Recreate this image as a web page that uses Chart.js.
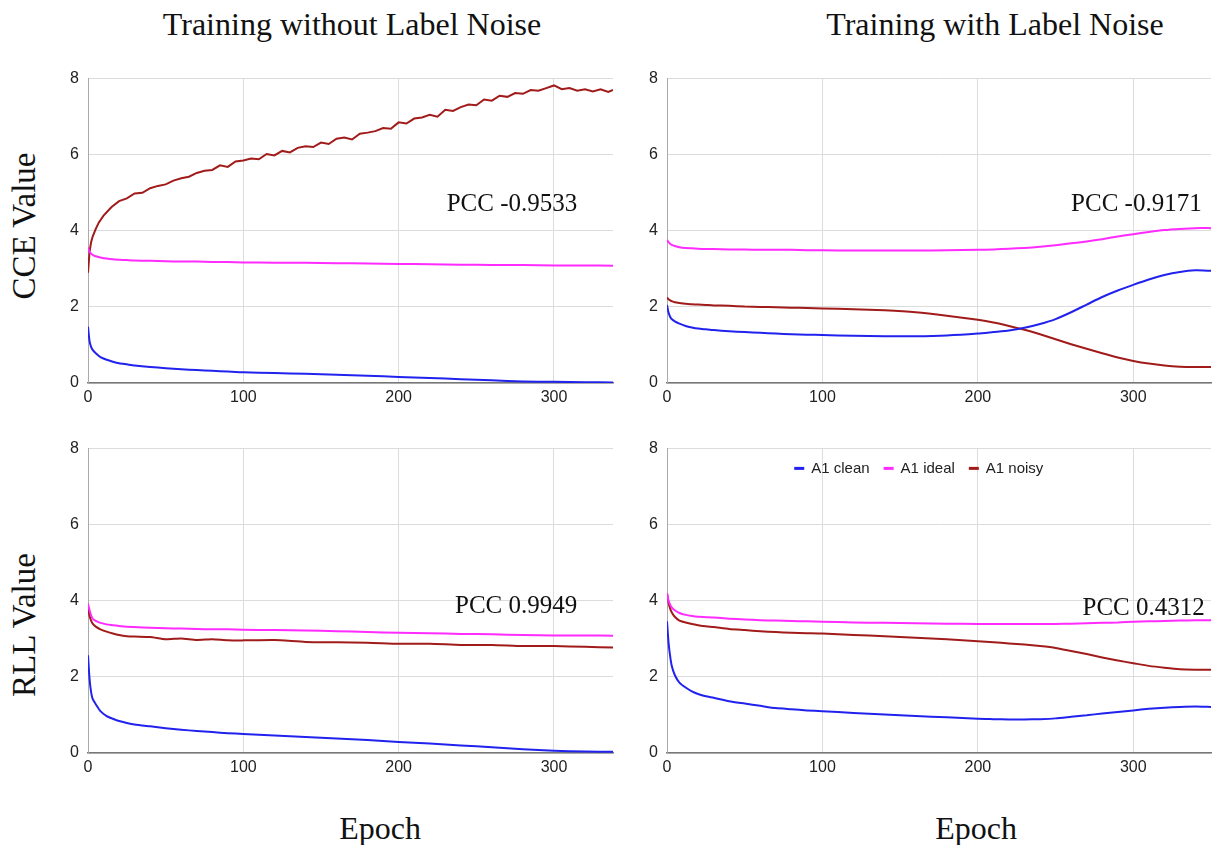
<!DOCTYPE html>
<html>
<head>
<meta charset="utf-8">
<script src="https://cdn.jsdelivr.net/npm/chart.js@4/dist/chart.umd.min.js"></script>
<style>
  body { margin: 0; background: #fff; width: 1214px; height: 845px; position: relative; overflow: hidden; }
  canvas { position: absolute; }
  .t { position: absolute; font-family: 'Liberation Serif', serif; font-size: 32px; color: #111; white-space: nowrap; transform: translate(-50%, -50%); }
  .rot { transform: translate(-50%, -50%) rotate(-90deg); font-size: 33px; }
</style>
</head>
<body>
<div class="t" style="left:352px; top:24px;">Training without Label Noise</div>
<div class="t" style="left:995px; top:24px;">Training with Label Noise</div>
<div class="t rot" style="left:24px; top:226px;">CCE Value</div>
<div class="t rot" style="left:24px; top:625px;">RLL Value</div>
<div class="t" style="left:380px; top:828px;">Epoch</div>
<div class="t" style="left:976px; top:828px;">Epoch</div>

<canvas id="c1" width="580" height="360" style="left:40px; top:60px;"></canvas>
<canvas id="c2" width="594" height="360" style="left:620px; top:60px;"></canvas>
<canvas id="c3" width="580" height="360" style="left:40px; top:430px;"></canvas>
<canvas id="c4" width="594" height="360" style="left:620px; top:430px;"></canvas>

<script>
// series names + colours
var seriesNames = ['A1 clean', 'A1 ideal', 'A1 noisy'];
var seriesColors = ['#2222ee', '#ff2bff', '#a11b1b'];
var yTicks = [0, 2, 4, 6, 8];
var xTicks = [0, 100, 200, 300];

// epochs sampled for the left column (run ends at 338) and right column (ends at 350)
var leftEpochs = [0, 1, 2, 3, 5, 8, 12, 16, 20, 25, 30, 40, 50, 60, 70, 80, 90, 100, 120, 140, 160, 180, 200, 220, 240, 260, 280, 300, 320, 338];
var rightEpochs = [0, 1, 2, 3, 5, 8, 12, 16, 20, 25, 30, 40, 50, 60, 70, 80, 90, 100, 120, 140, 160, 180, 200, 210, 220, 230, 240, 250, 260, 270, 280, 290, 300, 310, 320, 330, 340, 350];
var noisyEpochs = [0, 1, 2, 3, 5, 7, 10, 15, 20, 25, 30, 35, 40, 45, 50, 55, 60, 65, 70, 75, 80, 85, 90, 95, 100, 105, 110, 115, 120, 125, 130, 135, 140, 145, 150, 155, 160, 165, 170, 175, 180, 185, 190, 195, 200, 205, 210, 215, 220, 225, 230, 235, 240, 245, 250, 255, 260, 265, 270, 275, 280, 285, 290, 295, 300, 305, 310, 315, 320, 325, 330, 335, 338];

// CCE, without label noise
var cceCleanA = [1.48, 1.1, 0.95, 0.87, 0.78, 0.68, 0.61, 0.56, 0.52, 0.49, 0.46, 0.42, 0.39, 0.36, 0.34, 0.32, 0.3, 0.28, 0.26, 0.24, 0.22, 0.19, 0.16, 0.13, 0.1, 0.07, 0.04, 0.03, 0.02, 0.015];
var cceIdealA = [3.56, 3.45, 3.4, 3.37, 3.33, 3.3, 3.27, 3.25, 3.24, 3.23, 3.22, 3.21, 3.2, 3.19, 3.19, 3.18, 3.18, 3.17, 3.16, 3.16, 3.15, 3.14, 3.13, 3.12, 3.11, 3.1, 3.1, 3.09, 3.09, 3.08];
var cceNoisyA = [2.9, 3.45, 3.7, 3.85, 4.05, 4.22, 4.4, 4.62, 4.78, 4.85, 4.98, 5.0, 5.12, 5.18, 5.22, 5.32, 5.38, 5.42, 5.52, 5.58, 5.6, 5.72, 5.68, 5.82, 5.85, 5.9, 5.88, 6.02, 5.98, 6.1, 6.06, 6.18, 6.22, 6.2, 6.32, 6.28, 6.42, 6.45, 6.4, 6.55, 6.58, 6.62, 6.7, 6.68, 6.85, 6.82, 6.95, 6.98, 7.05, 7.0, 7.18, 7.15, 7.25, 7.32, 7.3, 7.45, 7.42, 7.55, 7.52, 7.62, 7.6, 7.7, 7.68, 7.75, 7.82, 7.72, 7.75, 7.68, 7.72, 7.66, 7.72, 7.65, 7.7];

// CCE, with label noise
var cceCleanB = [2.05, 1.85, 1.74, 1.68, 1.62, 1.56, 1.5, 1.46, 1.43, 1.41, 1.39, 1.36, 1.34, 1.32, 1.3, 1.28, 1.27, 1.26, 1.24, 1.23, 1.23, 1.25, 1.3, 1.34, 1.38, 1.45, 1.55, 1.68, 1.86, 2.06, 2.26, 2.43, 2.58, 2.72, 2.84, 2.92, 2.96, 2.95];
var cceIdealB = [3.76, 3.7, 3.66, 3.63, 3.6, 3.57, 3.55, 3.54, 3.53, 3.52, 3.52, 3.51, 3.51, 3.5, 3.5, 3.5, 3.49, 3.49, 3.48, 3.48, 3.48, 3.49, 3.5, 3.51, 3.53, 3.55, 3.58, 3.62, 3.67, 3.72, 3.78, 3.85, 3.91, 3.97, 4.02, 4.05, 4.07, 4.07];
var cceNoisyB = [2.25, 2.2, 2.17, 2.15, 2.12, 2.1, 2.08, 2.07, 2.06, 2.05, 2.04, 2.03, 2.01, 2.0, 1.99, 1.98, 1.97, 1.96, 1.94, 1.91, 1.86, 1.77, 1.66, 1.59, 1.5, 1.4, 1.28, 1.15, 1.02, 0.9, 0.78, 0.67, 0.58, 0.51, 0.46, 0.43, 0.42, 0.42];

// RLL, without label noise
var rllCleanA = [2.57, 1.95, 1.6, 1.42, 1.28, 1.1, 0.97, 0.9, 0.84, 0.79, 0.75, 0.7, 0.65, 0.61, 0.58, 0.55, 0.52, 0.5, 0.46, 0.42, 0.38, 0.34, 0.29, 0.25, 0.2, 0.15, 0.1, 0.06, 0.04, 0.03];
var rllIdealA = [3.92, 3.75, 3.62, 3.53, 3.47, 3.42, 3.38, 3.36, 3.34, 3.32, 3.31, 3.29, 3.28, 3.27, 3.26, 3.25, 3.25, 3.24, 3.23, 3.22, 3.2, 3.18, 3.16, 3.15, 3.13, 3.12, 3.1, 3.09, 3.09, 3.08];
var rllNoisyA = [3.83, 3.6, 3.48, 3.4, 3.32, 3.25, 3.19, 3.14, 3.1, 3.07, 3.06, 3.05, 2.99, 3.01, 2.97, 2.99, 2.96, 2.96, 2.97, 2.92, 2.91, 2.9, 2.87, 2.87, 2.84, 2.84, 2.81, 2.81, 2.79, 2.77];

// RLL, with label noise
var rllCleanB = [3.46, 2.9, 2.55, 2.3, 2.05, 1.85, 1.72, 1.62, 1.55, 1.49, 1.45, 1.36, 1.3, 1.24, 1.18, 1.15, 1.12, 1.1, 1.05, 1.01, 0.97, 0.94, 0.9, 0.89, 0.88, 0.88, 0.89, 0.91, 0.95, 0.99, 1.04, 1.08, 1.12, 1.16, 1.19, 1.21, 1.22, 1.21];
var rllIdealB = [4.2, 4.0, 3.9, 3.83, 3.75, 3.68, 3.63, 3.6, 3.58, 3.57, 3.56, 3.53, 3.51, 3.49, 3.48, 3.47, 3.46, 3.45, 3.43, 3.42, 3.41, 3.4, 3.39, 3.39, 3.39, 3.39, 3.39, 3.39, 3.4, 3.41, 3.42, 3.43, 3.45, 3.46, 3.47, 3.48, 3.49, 3.49];
var rllNoisyB = [4.2, 3.95, 3.8, 3.7, 3.58, 3.48, 3.43, 3.39, 3.36, 3.33, 3.31, 3.26, 3.23, 3.2, 3.18, 3.16, 3.15, 3.14, 3.1, 3.07, 3.03, 2.99, 2.94, 2.91, 2.88, 2.85, 2.81, 2.76, 2.68, 2.6, 2.51, 2.43, 2.36, 2.29, 2.24, 2.2, 2.19, 2.19];

var pccLabels = ['PCC -0.9533', 'PCC -0.9171', 'PCC 0.9949', 'PCC 0.4312'];

function pts(xs, ys) {
  return ys.map(function(v, i) { return { x: xs[i], y: v }; });
}

function ds(i, xs, ys, tension) {
  return {
    label: seriesNames[i],
    data: pts(xs, ys),
    borderColor: seriesColors[i],
    backgroundColor: seriesColors[i],
    borderWidth: 2,
    pointRadius: 0,
    tension: tension === undefined ? 0.2 : tension
  };
}

var tickFont = { family: "'Liberation Sans', Arial, sans-serif", size: 16 };

function makeChart(id, xMax, sets, pcc, showLegend, rightPad) {
  // PCC text + (optional) legend drawn inside the plot area
  var overlay = {
    id: 'overlay',
    afterDatasetsDraw: function(chart) {
      var c = chart.ctx;
      var xs = chart.scales.x, ys = chart.scales.y;
      c.save();
      c.font = "25px 'Liberation Serif', serif";
      c.fillStyle = '#111';
      c.textAlign = 'right';
      c.textBaseline = 'middle';
      c.fillText(pcc.text, xs.getPixelForValue(pcc.x), ys.getPixelForValue(pcc.y));

      if (showLegend) {
        c.font = "15px 'Liberation Sans', Arial, sans-serif";
        c.textAlign = 'left';
        var items = chart.data.datasets.map(function(d) {
          return { text: d.label, color: d.borderColor, w: c.measureText(d.label).width };
        });
        var box = 10, gap = 7, spacing = 14;
        var total = items.reduce(function(a, it) { return a + box + gap + it.w; }, 0) + spacing * (items.length - 1);
        var x = xs.getPixelForValue(162) - total / 2;
        var y = ys.getPixelForValue(7.48);
        items.forEach(function(it) {
          c.fillStyle = it.color;
          c.fillRect(x, y - 1.5, box, 3);
          c.fillStyle = '#222';
          c.fillText(it.text, x + box + gap, y);
          x += box + gap + it.w + spacing;
        });
      }
      c.restore();
    }
  };
  return new Chart(document.getElementById(id), {
    type: 'line',
    data: { datasets: sets },
    options: {
      responsive: false,
      animation: false,
      layout: { padding: { left: 0, top: 17, right: rightPad, bottom: 0 } },
      plugins: {
        legend: { display: false },
        tooltip: { enabled: false }
      },
      scales: {
        x: {
          type: 'linear', min: 0, max: xMax,
          afterFit: function(s) { s.height = 37; },
          grid: { color: '#dcdcdc', drawTicks: false },
          border: { color: '#777', width: 1.5 },
          ticks: { stepSize: 100, includeBounds: false, padding: 5, color: '#222', font: tickFont }
        },
        y: {
          min: 0, max: 8,
          afterFit: function(s) { s.width = id === 'c1' || id === 'c3' ? 48 : 47; },
          grid: { color: '#dcdcdc', drawTicks: false },
          border: { color: '#aaa' },
          ticks: { stepSize: 2, padding: 9, color: '#222', font: tickFont }
        }
      }
    },
    plugins: [overlay]
  });
}

makeChart('c1', 338, [ds(0, leftEpochs, cceCleanA), ds(1, leftEpochs, cceIdealA), ds(2, noisyEpochs, cceNoisyA, 0)],
  { text: pccLabels[0], x: 315, y: 4.68 }, false, 7);
makeChart('c2', 350, [ds(0, rightEpochs, cceCleanB), ds(1, rightEpochs, cceIdealB), ds(2, rightEpochs, cceNoisyB)],
  { text: pccLabels[1], x: 344, y: 4.68 }, false, 3);
makeChart('c3', 338, [ds(0, leftEpochs, rllCleanA), ds(1, leftEpochs, rllIdealA), ds(2, leftEpochs, rllNoisyA)],
  { text: pccLabels[2], x: 315, y: 3.85 }, false, 7);
makeChart('c4', 350, [ds(0, rightEpochs, rllCleanB), ds(1, rightEpochs, rllIdealB), ds(2, rightEpochs, rllNoisyB)],
  { text: pccLabels[3], x: 346, y: 3.81 }, true, 3);
</script>
</body>
</html>
